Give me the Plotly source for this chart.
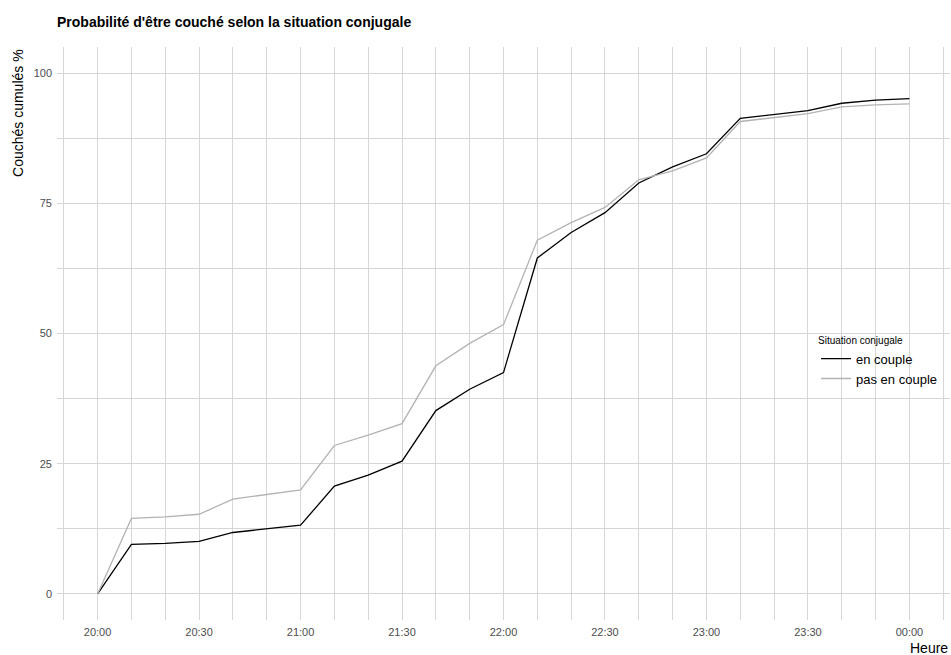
import plotly.graph_objects as go

times = ["20:00", "20:10", "20:20", "20:30", "20:40", "20:50",
         "21:00", "21:10", "21:20", "21:30", "21:40", "21:50",
         "22:00", "22:10", "22:20", "22:30", "22:40", "22:50",
         "23:00", "23:10", "23:20", "23:30", "23:40", "23:50", "00:00"]
en_couple = [0, 9.5, 9.7, 10.1, 11.8, 12.5, 13.2, 20.7, 22.8, 25.5, 35.2, 39.3,
             42.5, 64.5, 69.4, 73.2, 78.9, 82.0, 84.5, 91.3, 92.1, 92.8, 94.2, 94.8, 95.1]
pas_en_couple = [0, 14.5, 14.8, 15.3, 18.2, 19.1, 20.0, 28.5, 30.5, 32.7, 43.8, 48.1,
                 51.7, 67.9, 71.3, 74.2, 79.5, 81.2, 83.7, 90.7, 91.5, 92.2, 93.5, 93.9, 94.1]
y_ticks = [0, 25, 50, 75, 100]

def to_dt(t):
    day = "2024-01-02" if t.startswith("00") else "2024-01-01"
    return f"{day} {t}:00"

x = [to_dt(t) for t in times]

font = "Liberation Sans, Arial, Helvetica, sans-serif"
grid = "#d6d6d6"

fig = go.Figure()
fig.add_trace(go.Scatter(x=x, y=en_couple, mode="lines", name="en couple",
                         line=dict(color="#000000", width=1.3)))
fig.add_trace(go.Scatter(x=x, y=pas_en_couple, mode="lines", name="pas en couple",
                         line=dict(color="#b3b3b3", width=1.3)))

fig.update_layout(
    width=951, height=655,
    margin=dict(l=57, r=1, t=47, b=35),
    plot_bgcolor="white", paper_bgcolor="white",
    font=dict(family=font, size=11, color="#4d4d4d"),
    title=dict(text="<b>Probabilité d'être couché selon la situation conjugale</b>",
               x=0, xref="paper", xanchor="left", y=1 - 22 / 655, yref="container",
               yanchor="middle", font=dict(size=14, color="#000000", family=font)),
    xaxis=dict(
        type="date",
        range=["2024-01-01 19:48:00", "2024-01-02 00:12:00"],
        tick0="2024-01-01 20:00:00", dtick=30 * 60 * 1000, tickformat="%H:%M",
        showgrid=True, gridcolor=grid, gridwidth=1,
        minor=dict(dtick=10 * 60 * 1000, tick0="2024-01-01 20:00:00",
                   showgrid=True, gridcolor=grid, gridwidth=1),
        zeroline=False, showline=False, ticks="",
        tickfont=dict(size=11, color="#4d4d4d"),
        ticklabelstandoff=4,
    ),
    yaxis=dict(
        range=[-5, 105], tickvals=y_ticks,
        showgrid=True, gridcolor=grid, gridwidth=1,
        minor=dict(dtick=12.5, tick0=0, showgrid=True, gridcolor=grid, gridwidth=1),
        zeroline=False, showline=False, ticks="",
        tickfont=dict(size=11, color="#4d4d4d"),
        ticklabelstandoff=4,
    ),
    legend=dict(
        x=0.85, y=0.505, xanchor="left", yanchor="top",
        bgcolor="rgba(0,0,0,0)",
        title=dict(text="Situation conjugale", font=dict(size=10, color="#000000")),
        font=dict(size=13, color="#000000"),
        tracegroupgap=0, itemwidth=30,
    ),
    showlegend=True,
)

fig.add_annotation(text="Couchés cumulés %", textangle=-90,
                   xref="paper", yref="paper", x=-0.0437, y=1.0,
                   xanchor="center", yanchor="top", showarrow=False,
                   font=dict(size=14, color="#000000", family=font))
fig.add_annotation(text="Heure", xref="paper", yref="paper", x=1.0, y=-0.049,
                   xanchor="right", yanchor="middle", showarrow=False,
                   font=dict(size=14, color="#000000", family=font))

fig.write_html("out.html", config={"displayModeBar": False},
               post_script="document.body.style.margin='0';document.body.style.padding='0';")
